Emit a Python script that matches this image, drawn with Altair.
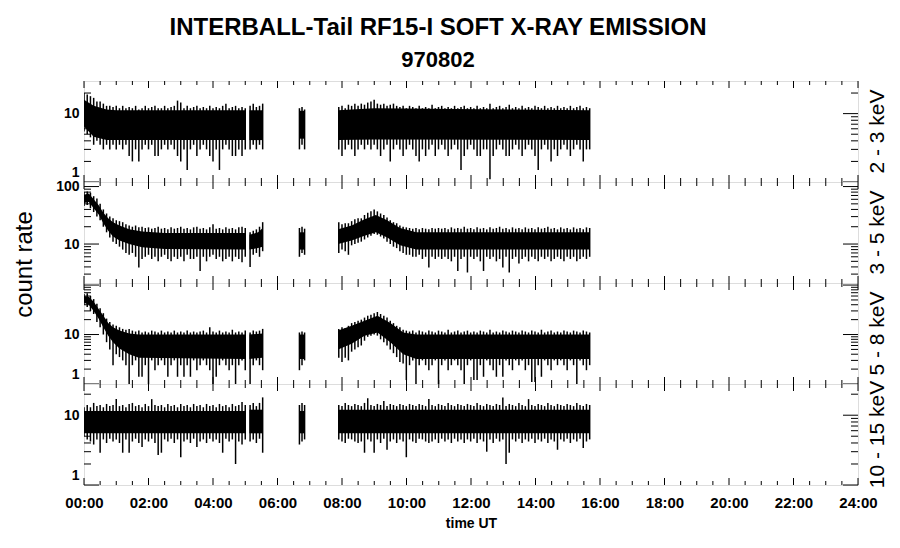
import altair as alt
import numpy as np
import pandas as pd

# ---------------- axis / tick values ----------------
HOURS_MAJOR = [0, 2, 4, 6, 8, 10, 12, 14, 16, 18, 20, 22, 24]
HOURS_MINOR = [0.5, 1, 1.5, 2.5, 3, 3.5, 4.5, 5, 5.5, 6.5, 7, 7.5, 8.5, 9, 9.5,
               10.5, 11, 11.5, 12.5, 13, 13.5, 14.5, 15, 15.5, 16.5, 17, 17.5,
               18.5, 19, 19.5, 20.5, 21, 21.5, 22.5, 23, 23.5]
LOG_MAJOR = [1, 10, 100]
LOG_MINOR = [2, 3, 4, 5, 6, 7, 8, 9, 20, 30, 40, 50, 60, 70, 80, 90]

BANDS = ["2 - 3 keV", "3 - 5 keV", "5 - 8 keV", "10 - 15 keV"]
Y_DOMAINS = [[1, 30], [2.1, 120], [1, 110], [1, 28]]
Y_LABELS = [[1, 10], [10, 100], [1, 10], [1, 10]]

# data segments (hours UT) and number of sampled bins in each
SEG_NAMES = ["A", "B", "C", "D"]
SEG_T0 = [0.0, 5.15, 6.68, 7.9]
SEG_T1 = [5.0, 5.54, 6.84, 15.68]
SEG_LEN = [51, 5, 3, 79]

# ---------------- 2 - 3 keV ----------------
P1_HI = [20, 19, 18, 17, 15, 15, 14, 13, 13, 12.5, 13,
         12, 13, 12, 12.5, 12, 13, 11.5, 12, 13, 12,
         12.5, 13, 12, 12, 13, 12, 12.5, 13, 15.5, 14.5,
         12, 13, 12, 12.5, 13, 12, 12.5, 12, 13, 12,
         12.5, 12, 13, 14, 12, 12.5, 13, 12, 12.5, 12,
         13, 14, 12.5, 13, 14,
         12, 12.5, 11.5,
         12.5, 13, 12, 13.5, 13, 14, 13, 14, 13.5, 14.5,
         15, 16, 14, 13.5, 14, 13, 13.5, 14, 13, 12.5,
         13, 12, 13, 12.5, 12, 13, 12, 12.5, 12, 13.5,
         12, 12.5, 13, 12, 12.5, 12, 13, 12, 12.5, 13,
         12, 12.5, 12, 13, 12, 12.5, 12, 14, 12, 12.5,
         13, 12, 12.5, 13.5, 12, 12.5, 12, 13, 12, 12.5,
         12, 13, 12.5, 12, 13, 12, 12.5, 12, 13, 12,
         12.5, 12, 13, 12, 12.5, 13, 12, 12.5, 12]
P1_LO = [5.5, 5, 4.5, 3.5, 4, 3.5, 3, 3.5, 3, 3.5, 3,
         3.5, 3, 3.5, 2.4, 2.0, 3, 2.0, 3, 3.5, 3,
         3.5, 2.4, 2.4, 3, 3.5, 3, 3.5, 3, 2.4, 2.0,
         3, 1.5, 3, 3.5, 2.4, 3, 3.5, 3, 2.4, 2.0,
         3, 1.5, 3, 3.5, 3, 2.4, 2.4, 3, 2.4, 3,
         3, 3.5, 3, 3.5, 3,
         3, 3.5, 3,
         3, 2.4, 3, 3.5, 3, 2.4, 3, 3.5, 3, 3.5,
         3, 3.5, 3, 2.4, 3, 3.5, 2.0, 3, 3.5, 3,
         2.4, 3, 3.5, 3, 2.4, 2.0, 3, 2.4, 3, 3.5,
         2.4, 3, 3.5, 3, 2.4, 3, 3.5, 3, 1.5, 2.4,
         3, 3.5, 3, 2.4, 2.4, 3, 3, 1.1, 2.4, 3,
         3.5, 3, 2.4, 2.4, 3, 3.5, 3, 2.4, 3, 3.5,
         3, 2.4, 1.5, 3, 3.5, 3, 2.0, 3, 2.4, 3,
         3.5, 3, 2.4, 3, 3.5, 3, 2.0, 3, 3]
P1_CORE_T = [0, 0.3, 0.7, 1.0, 5.0, 5.13, 5.54, 6.67, 6.85, 7.88, 9.0, 15.69]
P1_CORE_LO = [6.5, 4.6, 4.1, 4.1, 4.1, 4.1, 4.1, 4.3, 4.3, 4.1, 4.2, 4.1]
P1_CORE_HI = [16, 13, 11.5, 11.2, 11.2, 11.2, 11.2, 11, 11, 11.2, 12, 11.2]
P1_CORE_SEG = ["A", "A", "A", "A", "A", "B", "B", "C", "C", "D", "D", "D"]

# ---------------- 3 - 5 keV ----------------
P2_HI = [80, 82, 78, 68, 62, 50, 40, 34, 30, 28, 26,
         25, 24, 22, 21, 20, 21, 19.5, 20, 19, 19.5,
         18.5, 19, 20, 18.5, 19, 18, 19.5, 18.5, 19, 20,
         18.5, 19, 18, 19.5, 20, 18.5, 19, 18, 19.5, 22,
         18.5, 19, 18, 19.5, 18.5, 19, 18, 19.5, 20, 19,
         16, 17, 18, 20, 24,
         19, 20, 18.5,
         24, 22, 23, 23, 25, 27, 28, 28, 32, 35,
         37, 40, 37, 34, 32, 29, 26, 24, 23, 21,
         20, 19.5, 19, 18.5, 19, 18, 19, 18.5, 18, 19,
         18.5, 19, 18.5, 19, 18, 19.5, 18.5, 19, 18.5, 20,
         18.5, 19, 18, 19.5, 18.5, 19, 18, 19.5, 18.5, 19,
         20, 18.5, 19, 18, 19.5, 18.5, 19, 18, 19.5, 18.5,
         19, 18, 19.5, 18.5, 19, 20, 18.5, 19, 18, 19.5,
         18.5, 19, 18, 19.5, 18.5, 19, 18, 19.5, 19]
P2_LO = [46, 48, 42, 36, 30, 26, 20, 16, 13, 11, 10,
         9, 8, 7, 6.5, 7, 6, 3.9, 5.5, 6, 6.5,
         5.5, 6, 5, 6, 6.5, 5.5, 5, 6, 5.5, 6,
         5, 6.5, 5.5, 5.5, 6, 3.4, 6, 5, 6, 6.5,
         5.5, 6, 5, 5.5, 6, 5, 6, 5.5, 4.8, 6,
         4, 6.5, 7, 6, 7.5,
         6, 7, 6.5,
         7, 8, 7.5, 6.5, 9.5, 10, 10.5, 11, 12, 13,
         14, 15, 14.5, 13.5, 12.5, 11, 10, 9, 8.5, 7.5,
         7, 6.5, 6.5, 6, 6, 6.5, 5.5, 6, 3.9, 6,
         5.5, 6, 5.5, 6, 5.5, 5, 6, 3.4, 5.5, 6,
         3.2, 6, 5.5, 6, 5, 3.4, 6, 5.5, 6, 5,
         5.5, 3.9, 6, 3.2, 5.5, 6, 4.6, 5.5, 6, 5,
         6, 5.5, 5, 6, 5.5, 6, 5, 5.5, 6, 5.5,
         5, 6, 5.5, 6, 5, 5.5, 6, 5.5, 6]
P2_CORE_T = [0, 0.15, 0.3, 0.45, 0.6, 0.75, 0.9, 1.1, 1.4, 1.8, 2.5, 5.0,
             5.13, 5.4, 5.54, 6.67, 6.85,
             7.88, 8.3, 8.7, 9.05, 9.4, 9.8, 10.3, 15.69]
P2_CORE_LO = [52, 54, 42, 33, 23, 17, 13.5, 11.5, 10, 8.8, 8.2, 8,
              8, 8.5, 9, 8, 8,
              10, 11.5, 14, 16, 13, 9.5, 8, 8]
P2_CORE_HI = [72, 76, 60, 48, 35, 28, 24, 21, 18, 16.5, 15.5, 15.5,
              14.5, 16, 19, 16, 16,
              18, 21, 27, 32, 26, 19, 16, 16]
P2_CORE_SEG = ["A"] * 12 + ["B"] * 3 + ["C"] * 2 + ["D"] * 8

# ---------------- 5 - 8 keV ----------------
P3_HI = [66, 68, 60, 52, 42, 34, 27, 21, 18, 16, 15,
         14, 13, 12.5, 13, 12, 11.5, 12, 11, 11.5, 11,
         12, 11.5, 11, 12, 11, 11.5, 11, 12, 11, 11.5,
         11, 12, 11, 11.5, 11, 11.5, 12, 11, 14, 11.5,
         11, 12, 11, 11.5, 11, 12.5, 11, 11.5, 11, 12,
         11, 12, 11.5, 12, 13,
         11, 11.5, 11,
         13, 14, 13.5, 15, 17, 18, 19, 20, 22, 24,
         25, 27, 28.5, 26, 24, 22, 19, 17, 15, 14,
         12.5, 12, 11.5, 12, 11, 12, 11.5, 11, 12, 11.5,
         11, 12, 11.5, 11, 12.5, 11, 11.5, 12, 11, 11.5,
         12, 11, 11.5, 11, 12, 11.5, 11, 12.5, 11, 11.5,
         11, 12, 11.5, 11, 12, 11.5, 11, 12, 11.5, 11,
         12, 11.5, 11, 12.5, 11, 11.5, 12, 11, 11.5, 11,
         12, 11.5, 11, 12, 11.5, 11, 12, 11.5, 11]
P3_LO = [40, 36, 30, 26, 18, 14, 10, 7, 5, 2.4, 4,
         3.5, 3, 2.4, 1.0, 2.4, 3, 1.4, 1.4, 2.4, 1.0,
         3, 1.9, 2.4, 3, 2.4, 1.4, 2.4, 3, 1.4, 2.4,
         1.4, 2.4, 1.4, 3, 1.9, 2.4, 3, 2.4, 1.9, 1.0,
         1.4, 2.4, 3, 2.4, 1.9, 2.4, 1.0, 2.4, 3, 1.9,
         1.0, 2.4, 3, 2.4, 1.9,
         1.9, 2.4, 3,
         3.4, 2.8, 3.4, 3, 4.5, 5, 5.5, 6, 7.5, 9,
         9.5, 10, 9.5, 8, 7, 6, 5, 4.2, 3.5, 2.8,
         2.6, 1.2, 2.4, 3, 1.0, 2.4, 3, 2.4, 1.9, 2.4,
         3, 1.0, 2.4, 3, 1.9, 2.4, 3, 2.4, 1.9, 1.0,
         2.4, 3, 1.2, 1.2, 2.4, 1.4, 3, 2.4, 1.9, 1.4,
         2.4, 1.4, 3, 2.4, 1.9, 3, 2.4, 3, 1.9, 2.4,
         1.1, 1.1, 2.4, 1.4, 3, 2.4, 1.9, 3, 2.4, 3,
         2.4, 1.9, 3, 2.4, 1.0, 3, 2.4, 1.9, 2.4]
P3_CORE_T = [0, 0.15, 0.3, 0.45, 0.6, 0.75, 0.9, 1.1, 1.4, 1.7, 5.0,
             5.13, 5.54, 6.67, 6.85,
             7.88, 8.3, 8.7, 9.1, 9.5, 9.9, 10.3, 15.69]
P3_CORE_LO = [44, 40, 30, 21, 14, 9.5, 7, 5.2, 4, 3.4, 3.2,
              3.2, 3.4, 3.2, 3.2,
              5, 6.5, 9.5, 11, 7, 4, 3.2, 3.2]
P3_CORE_HI = [60, 58, 46, 33, 24, 17, 14, 12, 10.5, 10, 10,
              10, 10.5, 10, 10,
              12, 15, 19, 24, 17, 11, 10, 10]
P3_CORE_SEG = ["A"] * 11 + ["B"] * 2 + ["C"] * 2 + ["D"] * 8

# ---------------- 10 - 15 keV ----------------
P4_HI = [13, 14, 13, 15, 13.5, 14, 13, 14.5, 13.5, 14, 17,
         13.5, 14, 13, 14.5, 15, 13.5, 14, 13, 14.5, 13.5,
         17, 14, 13.5, 14, 13, 14.5, 13.5, 14, 13, 14.5,
         13.5, 14, 13, 14.5, 13.5, 14, 13, 14.5, 13.5, 14,
         13, 14.5, 13.5, 14, 13, 14.5, 13.5, 14, 15.5, 14,
         14, 15, 13.5, 15, 18,
         14, 15, 14,
         14, 13.5, 15, 14, 13.5, 14.5, 14, 13.5, 15, 17.5,
         14, 13.5, 14.5, 14, 16, 13.5, 14.5, 14, 13.5, 14.5,
         14, 13.5, 14.5, 14, 13.5, 14.5, 14, 13.5, 17, 14,
         13.5, 14.5, 14, 13.5, 15, 14, 13.5, 14.5, 14, 13.5,
         14.5, 14, 13.5, 15, 14, 13.5, 14.5, 14, 13.5, 14.5,
         14, 18, 13.5, 14.5, 14, 13.5, 15, 14, 13.5, 17,
         14, 13.5, 14.5, 14, 13.5, 15, 14, 13.5, 14.5, 14,
         13.5, 14.5, 14, 13.5, 15, 14, 13.5, 14.5, 14]
P4_LO = [5, 4.5, 4.2, 3.8, 4.5, 2.9, 4.5, 4, 4.6, 4.2, 4.5,
         4, 2.9, 4.5, 2.9, 4.2, 4.6, 4, 3.5, 4.5, 4.2,
         4.6, 4, 2.7, 2.9, 4.5, 4.2, 4.6, 4, 4.5, 2.5,
         4.2, 4.5, 4, 4.6, 3.5, 4.2, 4.5, 4, 4.6, 4.2,
         4.5, 4, 2.9, 4.6, 4.2, 4.5, 2.0, 4.2, 3.8, 4.5,
         4.2, 4.5, 4, 4.6, 2.9,
         3.8, 4.2, 4.5,
         4.5, 4.2, 4, 4.6, 4.5, 4.2, 4, 4.2, 2.9, 4.5,
         4.2, 2.9, 4.5, 4, 4.6, 3.2, 4.2, 4.5, 4, 4.5,
         4.2, 2.5, 4.5, 4.2, 4, 4.6, 4.5, 4.2, 4, 4.2,
         4.5, 4, 4.6, 4.2, 4.5, 4, 4.6, 4.2, 4.5, 4,
         4.5, 4.2, 4.6, 4, 4.5, 4.2, 3.0, 4.5, 4, 4.6,
         4.2, 4.5, 2.0, 2.9, 4.5, 4.2, 4.6, 4, 4.5, 4.2,
         4.6, 4, 4.5, 4.2, 4.6, 4, 4.5, 4.2, 3.2, 4.5,
         4.2, 4.6, 4, 4.5, 4.2, 4.6, 3.4, 4.2, 4.5]
P4_CORE_T = [0, 5.0, 5.13, 5.54, 6.67, 6.85, 7.88, 15.69]
P4_CORE_LO = [5.5, 5.5, 5.5, 5.5, 5.5, 5.5, 5.5, 5.5]
P4_CORE_HI = [11.5, 11.5, 12, 12, 11.5, 11.5, 12, 12]
P4_CORE_SEG = ["A", "A", "B", "B", "C", "C", "D", "D"]

PANELS = [
    (P1_HI, P1_LO, P1_CORE_T, P1_CORE_LO, P1_CORE_HI, P1_CORE_SEG),
    (P2_HI, P2_LO, P2_CORE_T, P2_CORE_LO, P2_CORE_HI, P2_CORE_SEG),
    (P3_HI, P3_LO, P3_CORE_T, P3_CORE_LO, P3_CORE_HI, P3_CORE_SEG),
    (P4_HI, P4_LO, P4_CORE_T, P4_CORE_LO, P4_CORE_HI, P4_CORE_SEG),
]

W, H = 774, 101
FONT = "Liberation Sans"


def fringe_frame(hi, lo):
    ts, segs = [], []
    for name, t0, t1, n in zip(SEG_NAMES, SEG_T0, SEG_T1, SEG_LEN):
        ts.extend(np.linspace(t0, t1, n).tolist())
        segs.extend([name] * n)
    assert len(ts) == len(hi) == len(lo), (len(ts), len(hi), len(lo))
    return pd.DataFrame({"t": ts, "lo": lo, "hi": hi, "seg": segs})


def make_panel(k):
    hi, lo, ct, clo, chi, cseg = PANELS[k]
    dom = Y_DOMAINS[k]
    xs = alt.Scale(domain=[0, 24], nice=False, zero=False)
    ys = alt.Scale(type="log", domain=dom, nice=False)

    if k == 3:
        xaxis = alt.Axis(values=HOURS_MAJOR,
                         labelExpr="(datum.value < 10 ? '0' : '') + datum.value + ':00'",
                         ticks=False, domain=False, grid=False, labelFlush=False,
                         labelOverlap=False, labelFont=FONT, labelFontSize=15,
                         labelFontWeight="bold", labelColor="black", labelPadding=10,
                         title="time UT", titleFont=FONT, titleFontSize=14,
                         titleFontWeight="bold", titleColor="black", titlePadding=6)
    else:
        xaxis = None

    yargs = dict(values=Y_LABELS[k], format="d", ticks=False, domain=False, grid=False,
                 labelFlush=True, labelFlushOffset=-3, labelOverlap=False, labelFont=FONT,
                 labelFontSize=14, labelFontWeight="bold", labelColor="black",
                 labelPadding=5)
    if k == 1:
        yaxis = alt.Axis(title="count rate", titleFont=FONT, titleFontSize=24,
                         titleFontWeight="normal", titleColor="black", titleAngle=270,
                         titleX=-48, titleY=82, titleAlign="center",
                         titleBaseline="bottom", **yargs)
    else:
        yaxis = alt.Axis(title="", **yargs)

    X = lambda f: alt.X(f, scale=xs, axis=xaxis)
    Y = lambda f: alt.Y(f, scale=ys, axis=yaxis)

    fr = fringe_frame(hi, lo)
    core = pd.DataFrame({"t": ct, "lo": clo, "hi": chi, "seg": cseg})

    core_layer = alt.Chart(core).mark_area(color="black", clip=True).encode(
        x=X("t:Q"), y=Y("lo:Q"), y2="hi:Q", detail="seg:N")
    fringe_layer = alt.Chart(fr).mark_rule(color="black", strokeWidth=1.5, clip=True).encode(
        x=X("t:Q"), y=Y("lo:Q"), y2="hi:Q")

    hx_major = pd.DataFrame({"h": HOURS_MAJOR})
    hx_minor = pd.DataFrame({"h": HOURS_MINOR})
    vy_major = pd.DataFrame({"v": [v for v in LOG_MAJOR if dom[0] <= v <= dom[1]]})
    vy_minor = pd.DataFrame({"v": [v for v in LOG_MINOR if dom[0] < v < dom[1]]})

    tick_layers = []
    for dfh, ln in ((hx_major, 7), (hx_minor, 4)):
        base = alt.Chart(dfh).mark_rule(color="black", strokeWidth=1)
        tick_layers.append(base.encode(x=X("h:Q"), y=alt.value(H), y2=alt.value(H - ln)))
        tick_layers.append(base.encode(x=X("h:Q"), y=alt.value(0), y2=alt.value(ln)))
    for dfv, ln in ((vy_major, 15), (vy_minor, 7)):
        base = alt.Chart(dfv).mark_rule(color="black", strokeWidth=1)
        tick_layers.append(base.encode(y=Y("v:Q"), x=alt.value(0), x2=alt.value(ln)))
        tick_layers.append(base.encode(y=Y("v:Q"), x=alt.value(W - ln), x2=alt.value(W)))

    band_label = alt.Chart(pd.DataFrame({"band": [BANDS[k]]})).mark_text(
        angle=270, font=FONT, fontSize=21, align="center", baseline="top", color="black"
    ).encode(text="band:N", x=alt.value(W + 9), y=alt.value(H / 2))

    return alt.layer(core_layer, fringe_layer, *tick_layers, band_label).properties(
        width=W, height=H)


chart = alt.vconcat(*[make_panel(k) for k in range(4)], spacing=0, bounds="flush").properties(
    padding={"left": 3, "top": 8, "right": 2, "bottom": 2},
    title=alt.TitleParams(
        text="INTERBALL-Tail RF15-I SOFT X-RAY EMISSION",
        subtitle="970802",
        font=FONT, fontSize=24, fontWeight="bold", color="black",
        subtitleFont=FONT, subtitleFontSize=22, subtitleFontWeight="bold",
        subtitleColor="black", subtitlePadding=10, offset=9, anchor="middle", dx=-12),
).configure_view(stroke="black", strokeWidth=1).configure(background="white")

chart.save("out.html", embed_options={"renderer": "svg", "actions": False})
